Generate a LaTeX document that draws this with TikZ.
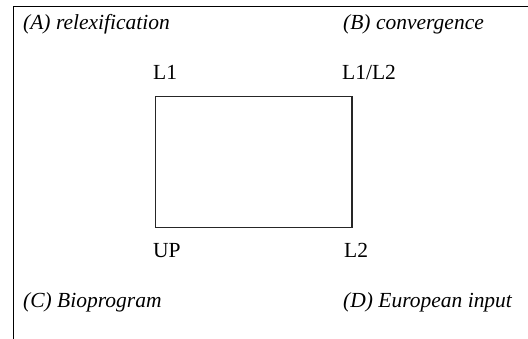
\documentclass[tikz,border=0pt]{standalone}
\usepackage{fontspec}
\setmainfont{Liberation Serif}
\begin{document}
\begin{tikzpicture}[x=1pt,y=-1pt,
  lbl/.style={anchor=base west,inner sep=0pt,font=\fontsize{21.5}{24}\selectfont},
  ilbl/.style={lbl,font=\fontsize{21.5}{24}\selectfont\itshape},
  frameline/.style={line width=1pt,black},
  boxline/.style={line width=1.3pt,draw=black!85}]
\useasboundingbox (0,0) rectangle (528,339);
\coordinate (tl) at (13.3,7);
\coordinate (tr) at (528,7);
\coordinate (bl) at (13.3,339);
\draw[frameline] (tr) -- (tl) -- (bl);
\node[ilbl] (A) at (23,30) {(A) relexification};
\node[ilbl] (B) at (343,30) {(B) convergence};
\node[ilbl] (C) at (23,308) {(C) Bioprogram};
\node[ilbl] (D) at (343,308) {(D) European input};
\node[lbl] (L1) at (153,80) {L1};
\node[lbl] (L1L2) at (342,80) {L1/L2};
\node[lbl] (UP) at (153,258) {UP};
\node[lbl] (L2) at (344,258) {L2};
\node[boxline,draw,inner sep=0pt,minimum width=196.8pt,minimum height=131pt,anchor=north west] (box) at (154.5,96) {};
\end{tikzpicture}
\end{document}
